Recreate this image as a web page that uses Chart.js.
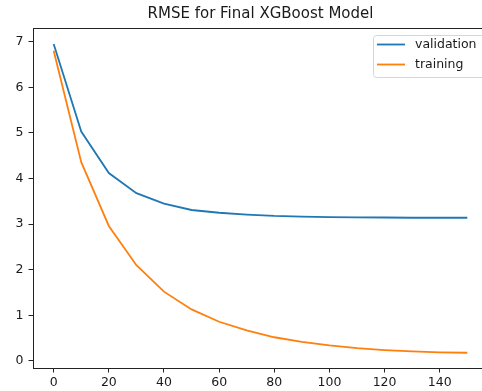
<!DOCTYPE html>
<html>
  <head>
    <title>RMSE for Final XGBoost Model</title>
    <style>
      html, body{ margin: 0; padding: 0; background-color: #ffffff; overflow: hidden; }
      canvas{ display: block; }
    </style>
    <script src="https://cdn.jsdelivr.net/npm/chart.js"></script>
  </head>
  <body>
    <canvas id="myChart" width="521" height="391"></canvas>

    <script>
      // Define the data (boosting rounds, RMSE)
      const rounds = [0, 10, 20, 30, 40, 50, 60, 70, 80, 90, 100, 110, 120, 130, 140, 150];
      const validation = [6.95, 5.03, 4.12, 3.68, 3.45, 3.31, 3.25, 3.21, 3.18, 3.165, 3.155, 3.15, 3.145, 3.14, 3.14, 3.14];
      const training = [6.80, 4.36, 2.96, 2.10, 1.52, 1.13, 0.86, 0.67, 0.52, 0.42, 0.34, 0.28, 0.24, 0.21, 0.19, 0.18];
      const xTicks = [0, 20, 40, 60, 80, 100, 120, 140];
      const yTicks = [0, 1, 2, 3, 4, 5, 6, 7];

      const blue = '#1f77b4';
      const orange = '#ff7f0e';
      const font = 'DejaVu Sans';

      // matplotlib-like frame and legend
      const framePlugin = {
        id: 'frame',
        afterDraw(chart) {
          const c = chart.ctx;
          const a = chart.chartArea;
          c.save();
          c.strokeStyle = '#222';
          c.lineWidth = 1;
          c.beginPath();
          c.moveTo(a.left, a.top + 0.5);
          c.lineTo(a.right, a.top + 0.5);
          c.moveTo(a.right - 0.5, a.top);
          c.lineTo(a.right - 0.5, a.bottom);
          c.stroke();

          // legend box
          const bx = 373.5, by = 35.5, bw = 115, bh = 42;
          c.fillStyle = 'rgba(255,255,255,0.8)';
          c.strokeStyle = '#d6d6d6';
          c.beginPath();
          c.roundRect(bx, by, bw, bh, 3);
          c.fill();
          c.stroke();

          const sets = chart.data.datasets;
          c.font = '12.5px "' + font + '"';
          c.textBaseline = 'middle';
          c.textAlign = 'left';
          sets.forEach((ds, i) => {
            const y = 44.5 + i * 20;
            c.strokeStyle = ds.borderColor;
            c.lineWidth = 1.8;
            c.beginPath();
            c.moveTo(377, y);
            c.lineTo(405, y);
            c.stroke();
            c.fillStyle = '#1a1a1a';
            c.fillText(ds.label, 415, y);
          });
          c.restore();
        }
      };

      const ctx = document.getElementById('myChart').getContext('2d');
      const myChart = new Chart(ctx, {
        type: 'line',
        data: {
          datasets: [
            {
              label: 'validation',
              data: rounds.map((r, i) => ({ x: r, y: validation[i] })),
              borderColor: blue,
              borderWidth: 1.8,
              pointRadius: 0,
              tension: 0,
              order: 1
            },
            {
              label: 'training',
              data: rounds.map((r, i) => ({ x: r, y: training[i] })),
              borderColor: orange,
              borderWidth: 1.8,
              pointRadius: 0,
              tension: 0,
              order: 0
            }
          ]
        },
        options: {
          responsive: false,
          animation: false,
          devicePixelRatio: 1,
          layout: { padding: { left: 0, right: 33, top: 0, bottom: 0 } },
          scales: {
            x: {
              type: 'linear',
              min: -7.5,
              max: 157.5,
              afterFit(scale) { scale.height = 23; },
              afterBuildTicks(scale) { scale.ticks = xTicks.map(v => ({ value: v })); },
              grid: { drawOnChartArea: false, color: '#222', tickLength: 4.5 },
              border: { color: '#222', width: 1 },
              ticks: { color: '#1a1a1a', padding: 3, maxRotation: 0, font: { family: font, size: 12.5 } }
            },
            y: {
              min: -0.154,
              max: 7.30,
              afterFit(scale) { scale.width = 33; },
              afterBuildTicks(scale) { scale.ticks = yTicks.map(v => ({ value: v })); },
              grid: { drawOnChartArea: false, color: '#222', tickLength: 4.5 },
              border: { color: '#222', width: 1 },
              ticks: { color: '#1a1a1a', padding: 5, font: { family: font, size: 12.5 } }
            }
          },
          plugins: {
            legend: { display: false },
            tooltip: { enabled: false },
            title: {
              display: true,
              fullSize: false,
              text: 'RMSE for Final XGBoost Model',
              color: '#1a1a1a',
              font: { family: font, size: 15, weight: 'normal' },
              padding: { top: 4.7, bottom: 5.3 }
            }
          }
        },
        plugins: [framePlugin]
      });
    </script>
  </body>
</html>
